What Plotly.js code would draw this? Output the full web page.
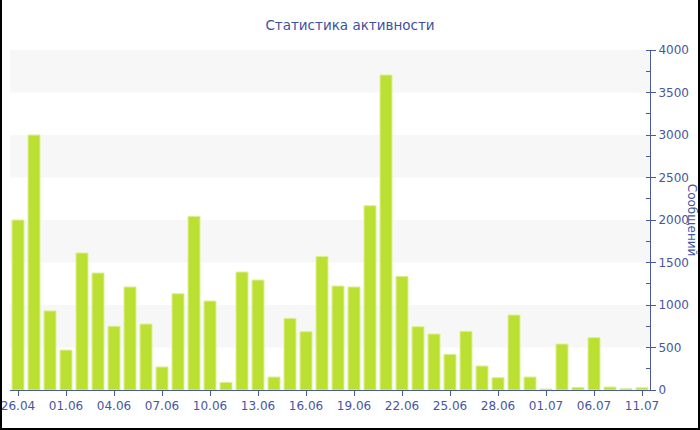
<!DOCTYPE html>
<html>
<head>
<meta charset="utf-8">
<script src="https://cdn.plot.ly/plotly-3.0.1.min.js"></script>
<style>
  html, body { margin: 0; padding: 0; background: #fff; }
  #wrap { position: relative; width: 700px; height: 430px; }
  #chart { width: 700px; height: 430px; }
  #frame { position: absolute; left: 0; top: 0; width: 700px; height: 430px; box-sizing: border-box;
           border-left: 2px solid #000; border-right: 2px solid #000; border-bottom: 2px solid #000; pointer-events: none; }
</style>
</head>
<body>
<div id="wrap"><div id="chart"></div><div id="frame"></div></div>
<script>
const dates = ["26.04","30.05","31.05","01.06","02.06","03.06","04.06","05.06","06.06","07.06",
               "08.06","09.06","10.06","11.06","12.06","13.06","14.06","15.06","16.06","17.06",
               "18.06","19.06","20.06","21.06","22.06","23.06","24.06","25.06","26.06","27.06",
               "28.06","29.06","30.06","01.07","02.07","04.07","06.07","08.07","10.07","11.07"];
const messages = [2000, 3000, 930, 470, 1612, 1376, 750, 1212, 776, 271,
                  1133, 2043, 1047, 90, 1388, 1294, 153, 843, 686, 1572,
                  1223, 1212, 2168, 3706, 1337, 745, 659, 420, 690, 282,
                  145, 882, 153, 12, 541, 31, 616, 35, 16, 27];
const tickLabels = ["26.04","01.06","04.06","07.06","10.06","13.06","16.06","19.06","22.06","25.06","28.06","01.07","06.07","11.07"];
const yTicks = [0, 500, 1000, 1500, 2000, 2500, 3000, 3500, 4000];
const titleText = "Статистика активности";
const yTitle = "Сообщений";

const axisColor = "#4a5a9c";
const textColor = "#4656a0";

const bands = [];
for (let i = 1; i < yTicks.length; i += 2) {
  bands.push({type: "rect", xref: "paper", yref: "y", x0: 0, x1: 1, y0: yTicks[i], y1: yTicks[i + 1],
              fillcolor: "#f7f7f7", line: {width: 0}, layer: "below"});
}

const trace = {
  type: "bar",
  x: dates,
  y: messages,
  marker: {color: "#bce031", line: {color: "#dcef9a", width: 1}},
  hoverinfo: "x+y"
};

const layout = {
  width: 700, height: 430,
  margin: {l: 10, r: 50, t: 50, b: 40},
  paper_bgcolor: "#fff", plot_bgcolor: "#fff",
  font: {family: "DejaVu Sans, Verdana, sans-serif", size: 12, color: textColor},
  title: {text: titleText, x: 0.5, xanchor: "center", y: 0.942, yanchor: "middle",
          font: {family: "DejaVu Sans, Verdana, sans-serif", size: 13.5, color: "#3e4f9f"}},
  bargap: 0.25,
  showlegend: false,
  shapes: bands,
  xaxis: {
    type: "category",
    range: [-0.5, dates.length - 0.5],
    tickmode: "array", tickvals: tickLabels, ticktext: tickLabels,
    ticks: "outside", ticklen: 5, tickcolor: axisColor, tickwidth: 1,
    showline: true, linecolor: axisColor, linewidth: 1,
    showgrid: false, zeroline: false,
    tickfont: {size: 12, color: textColor}
  },
  yaxis: {
    side: "right",
    range: [0, 4000],
    tickmode: "array", tickvals: yTicks,
    ticks: "outside", ticklen: 5, tickcolor: axisColor, tickwidth: 1,
    minor: {dtick: 250, ticks: "inside", ticklen: 4, tickcolor: axisColor, showgrid: false},
    showline: true, linecolor: axisColor, linewidth: 1,
    showgrid: false, zeroline: false,
    tickfont: {size: 12, color: textColor}
  },
  annotations: [{
    text: yTitle, xref: "paper", yref: "paper", x: 1.066, y: 0.5,
    xanchor: "center", yanchor: "middle", textangle: 90, showarrow: false,
    font: {size: 12, color: textColor}
  }]
};

Plotly.newPlot("chart", [trace], layout, {displayModeBar: false, staticPlot: true});
</script>
</body>
</html>
